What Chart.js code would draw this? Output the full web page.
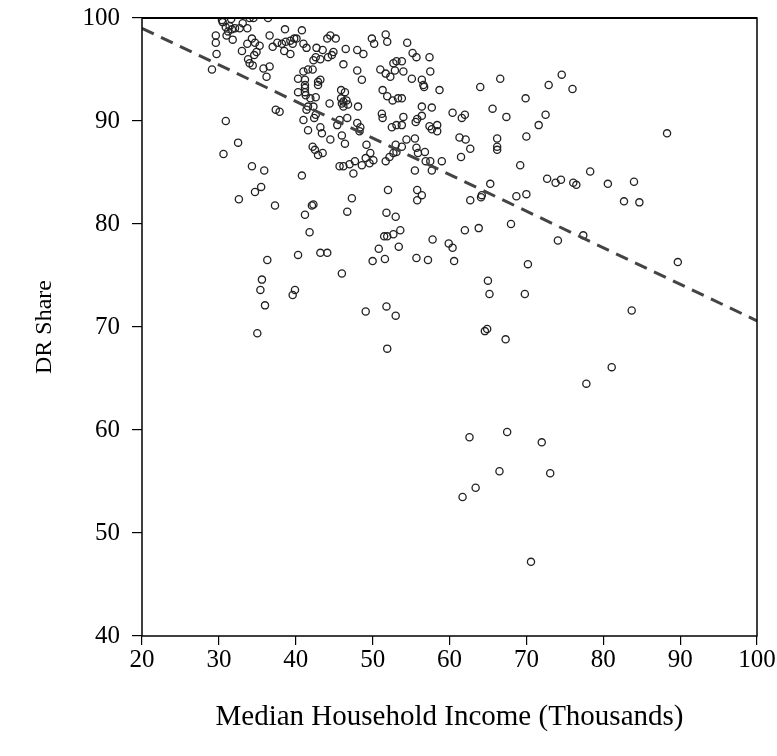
<!DOCTYPE html>
<html>
<head>
<meta charset="utf-8">
<script src="https://cdn.jsdelivr.net/npm/chart.js@4"></script>
<style>
  html, body { margin: 0; padding: 0; background: #fff; }
  #wrap { width: 777px; height: 756px; }
</style>
</head>
<body>
<div id="wrap"><canvas id="scatterChart" width="777" height="756"></canvas></div>
<script>
// median household income (thousands) for each county
const incomeX = [
    29.1, 29.6, 29.6, 29.7, 30.5, 30.9, 31.4, 31.7, 32.1, 31.2, 31.0, 31.8, 32.7, 33.1, 33.7, 34.0, 34.5,
    33.0, 33.7, 34.3, 34.7, 35.3, 34.9, 34.6, 33.8, 34.0, 34.4, 35.8, 36.6, 36.2, 36.6, 36.4, 38.6,
    37.0, 37.6, 38.2, 38.7, 39.3, 39.8, 39.6, 40.1, 38.5, 39.3, 40.3, 40.3, 37.4, 37.9, 30.9, 32.5,
    30.6, 34.3, 35.9, 40.8, 41.0, 41.4, 42.7, 43.5, 44.1, 44.5, 45.2, 44.9, 44.7, 44.2, 42.3, 43.2,
    42.6, 46.5, 48.0, 48.8, 46.2, 48.0, 48.6, 49.9, 50.2, 51.7, 51.9, 51.0, 51.7, 52.3, 52.9, 53.1,
    52.7, 41.0, 41.6, 42.2, 41.2, 41.2, 41.2, 41.2, 41.3, 42.9, 43.2, 42.9, 45.9, 46.4, 45.9, 46.2,
    46.6, 46.8, 46.2, 46.0, 48.1, 44.4, 51.3, 51.9, 52.6, 53.3, 41.9, 42.6, 42.3, 41.6, 41.4, 41.0,
    42.4, 42.6, 41.6, 43.2, 43.4, 44.5, 45.7, 45.4, 46.0, 46.4, 46.7, 48.0, 48.4, 48.3, 49.2, 49.7,
    49.1, 50.1, 51.2, 51.3, 52.5, 53.1, 53.0, 52.7, 52.2, 51.7, 53.1, 42.2, 42.5, 42.9, 43.5, 45.7,
    46.2, 47.0, 47.7, 48.6, 49.6, 47.5, 40.8, 54.5, 55.2, 55.7, 57.4, 53.8, 54.0, 55.1, 56.4, 56.6,
    56.7, 57.5, 58.7, 64.0, 66.6, 65.6, 53.8, 56.4, 57.7, 54.0, 53.8, 55.6, 55.8, 56.4, 57.4, 57.7,
    58.4, 58.4, 60.4, 61.6, 62.0, 61.3, 62.1, 62.7, 61.5, 66.2, 66.2, 66.2, 54.4, 55.5, 53.8, 55.7,
    55.9, 56.8, 56.9, 57.5, 59.0, 55.5, 57.7, 67.4, 69.9, 72.9, 72.5, 71.6, 70.0, 69.2, 72.7, 65.3,
    62.7, 64.2, 64.1, 68.7, 70.0, 55.8, 56.4, 55.8, 52.0, 51.8, 53.0, 47.3, 46.7, 68.0, 74.6, 76.0,
    88.3, 73.8, 74.5, 76.1, 76.5, 78.3, 80.6, 84.0, 82.7, 84.7, 74.1, 77.4, 89.7, 83.7, 81.1, 77.8,
    51.5, 51.9, 52.7, 53.6, 50.8, 53.4, 50.0, 51.6, 55.7, 57.2, 57.8, 59.9, 60.4, 60.6, 62.0, 63.8,
    70.2, 65.0, 65.2, 69.8, 49.1, 51.8, 53.0, 64.6, 64.9, 67.3, 51.9, 67.5, 62.6, 72.0, 66.5, 73.1,
    63.4, 61.7, 70.6, 41.8, 40.3, 43.2, 44.1, 46.0, 36.3, 35.6, 35.4, 36.0, 39.9, 39.6, 35.0, 32.6,
    34.7, 35.5, 37.3, 41.2, 42.1, 42.3, 30.4, 31.6
];

// DR share (%) for the same counties
const drShare = [
    95.0, 97.6, 98.3, 96.5, 99.6, 99.1, 99.2, 98.9, 99.0, 98.7, 98.3, 97.9, 99.0, 99.5, 99.0, 100, 100,
    96.8, 97.5, 98.0, 97.6, 97.3, 96.7, 96.4, 96.0, 95.6, 95.4, 95.1, 95.3, 94.3, 98.3, 100, 98.9,
    97.2, 97.6, 97.5, 97.7, 97.8, 98.0, 97.5, 98.0, 96.8, 96.5, 94.1, 92.8, 91.1, 90.9, 90.0, 87.9,
    86.8, 85.6, 85.2, 98.8, 97.5, 97.1, 97.1, 96.9, 98.0, 98.3, 98.0, 96.7, 96.4, 96.2, 95.9, 96.0,
    96.2, 97.0, 96.9, 96.5, 95.5, 94.9, 94.0, 98.0, 97.5, 98.4, 97.7, 95.0, 94.6, 94.3, 94.9, 95.8,
    95.6, 94.8, 95.0, 95.0, 94.0, 93.5, 93.2, 92.8, 92.5, 93.8, 94.0, 93.5, 93.0, 92.8, 92.2, 91.9,
    92.0, 91.6, 91.4, 91.7, 91.4, 91.7, 93.0, 92.4, 92.0, 92.2, 92.2, 92.3, 91.4, 91.4, 91.1, 90.1,
    90.3, 90.6, 89.1, 89.4, 88.8, 88.2, 90.1, 89.6, 88.6, 87.8, 90.3, 89.8, 89.4, 89.0, 87.7, 86.9,
    86.4, 86.2, 90.7, 90.3, 89.4, 89.6, 87.7, 86.9, 86.5, 86.1, 87.0, 87.5, 87.2, 86.7, 86.9, 85.6,
    85.6, 85.8, 86.1, 85.7, 85.9, 84.9, 84.7, 97.6, 96.6, 96.2, 96.2, 95.8, 94.8, 94.1, 94.0, 93.5,
    93.3, 94.8, 93.0, 93.3, 94.1, 91.2, 92.2, 91.4, 91.3, 90.4, 89.6, 89.9, 90.2, 90.5, 89.5, 89.2,
    89.6, 89.0, 90.8, 90.3, 90.6, 88.4, 88.2, 87.3, 86.5, 88.3, 87.5, 87.2, 88.2, 88.3, 87.5, 87.4,
    86.9, 87.0, 86.1, 86.1, 86.1, 85.2, 85.2, 90.4, 92.2, 93.5, 90.6, 89.6, 88.5, 85.7, 84.4, 83.9,
    82.3, 82.8, 82.6, 82.7, 82.9, 83.3, 82.8, 82.3, 83.3, 81.1, 80.7, 82.5, 81.2, 80.0, 94.5, 93.1,
    88.8, 84.0, 84.3, 84.0, 83.8, 85.1, 83.9, 84.1, 82.2, 82.1, 78.4, 78.9, 76.3, 71.6, 66.1, 64.5,
    78.8, 78.8, 79.0, 79.4, 77.6, 77.8, 76.4, 76.6, 76.7, 76.5, 78.5, 78.1, 77.7, 76.4, 79.4, 79.6,
    76.1, 74.5, 73.2, 73.2, 71.5, 72.0, 71.1, 69.6, 69.8, 68.8, 67.9, 59.8, 59.3, 58.8, 56.0, 55.8,
    54.4, 53.5, 47.2, 79.2, 77.0, 77.2, 77.2, 75.2, 76.5, 74.6, 73.6, 72.1, 73.6, 73.1, 69.4, 82.4,
    83.1, 83.6, 81.8, 80.9, 81.8, 81.9, 99.8, 99.9
];

// fitted trend line end points
const trendX = [20, 100];
const trendY = [99.0, 70.6];

// axis ticks
const xTicks = [20, 30, 40, 50, 60, 70, 80, 90, 100];
const yTicks = [40, 50, 60, 70, 80, 90, 100];

const serif = "'Liberation Serif', 'Times New Roman', serif";

document.addEventListener("DOMContentLoaded", function () {
    const ctx = document.getElementById("scatterChart").getContext("2d");

    const points = incomeX.map((x, i) => ({ x: x, y: drShare[i] }));
    const trend = trendX.map((x, i) => ({ x: x, y: trendY[i] }));

    // box around the plot area
    const frame = {
        id: "frame",
        afterDraw(chart) {
            const a = chart.chartArea;
            const c = chart.ctx;
            c.save();
            c.strokeStyle = "#000";
            c.lineWidth = 1.5;
            c.strokeRect(a.left, a.top, a.right - a.left, a.bottom - a.top);
            c.lineWidth = 2;
            c.beginPath();
            c.moveTo(a.left, a.top);
            c.lineTo(a.right, a.top);
            c.stroke();
            c.restore();
        }
    };

    new Chart(ctx, {
        type: "scatter",
        data: {
            datasets: [
                {
                    type: "line",
                    label: "Trend",
                    data: trend,
                    borderColor: "#444",
                    borderWidth: 3,
                    borderDash: [13, 8],
                    pointRadius: 0,
                    fill: false
                },
                {
                    label: "Counties",
                    data: points,
                    pointStyle: "circle",
                    pointRadius: 3.6,
                    borderWidth: 1.3,
                    borderColor: "#222",
                    backgroundColor: "rgba(0,0,0,0)"
                }
            ]
        },
        options: {
            responsive: false,
            animation: false,
            layout: { padding: { left: 0, top: 18, right: 20, bottom: 0 } },
            plugins: {
                legend: { display: false },
                tooltip: { enabled: false }
            },
            scales: {
                x: {
                    type: "linear",
                    min: 20,
                    max: 100,
                    afterBuildTicks: (scale) => { scale.ticks = xTicks.map(v => ({ value: v })); },
                    afterFit: (scale) => {
                        scale.height = 120;
                        scale.paddingLeft = 0;
                        scale.paddingRight = 0;
                    },
                    border: { display: false },
                    grid: { display: true, drawOnChartArea: false, drawTicks: true, tickLength: 9, color: "#000", lineWidth: 1.2 },
                    ticks: { color: "#000", padding: 0, maxRotation: 0, font: { family: serif, size: 25 } },
                    title: {
                        display: true,
                        text: "Median Household Income (Thousands)",
                        color: "#000",
                        padding: { top: 0, bottom: 21 },
                        font: { family: serif, size: 29 }
                    }
                },
                y: {
                    type: "linear",
                    min: 40,
                    max: 100,
                    afterBuildTicks: (scale) => { scale.ticks = yTicks.map(v => ({ value: v })); },
                    afterFit: (scale) => {
                        scale.width = 142;
                        scale.paddingTop = 0;
                        scale.paddingBottom = 0;
                    },
                    border: { display: false },
                    grid: { display: true, drawOnChartArea: false, drawTicks: true, tickLength: 10, color: "#000", lineWidth: 1.2 },
                    ticks: { color: "#000", padding: 12, font: { family: serif, size: 25 } },
                    title: {
                        display: true,
                        text: "DR Share",
                        color: "#000",
                        padding: { top: 30, bottom: 0 },
                        font: { family: serif, size: 24 }
                    }
                }
            }
        },
        plugins: [frame]
    });
});
</script>
</body>
</html>
